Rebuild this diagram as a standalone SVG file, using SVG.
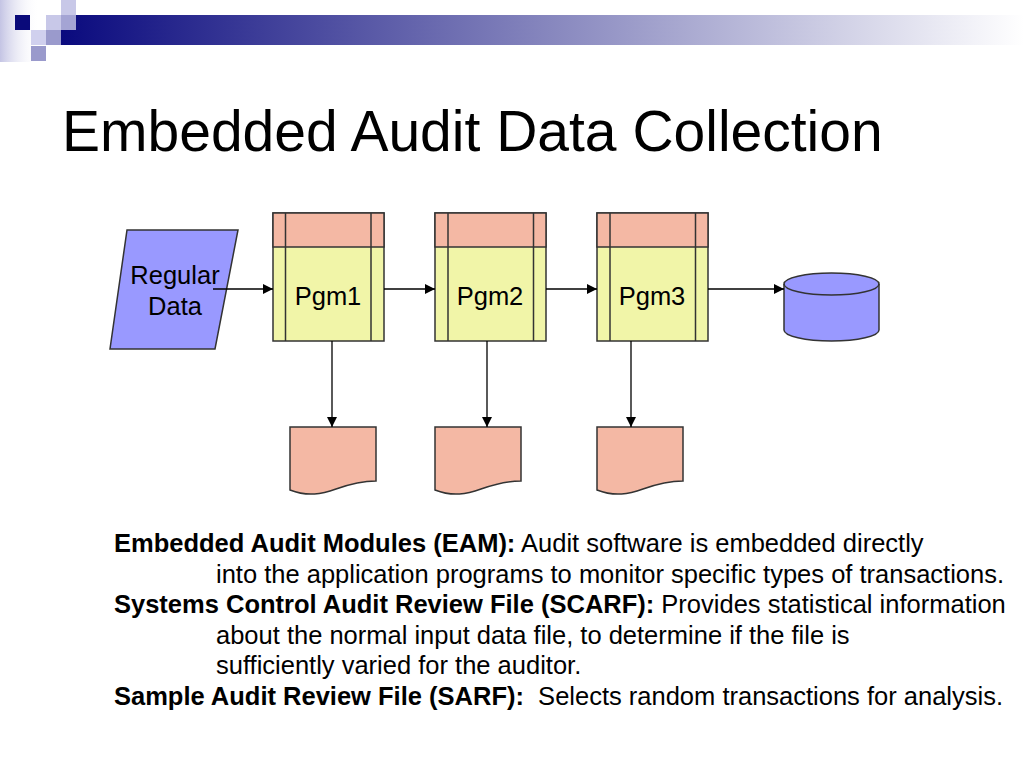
<svg xmlns="http://www.w3.org/2000/svg" width="1024" height="768" viewBox="0 0 1024 768">
<defs>
<linearGradient id="bar" x1="0" y1="0" x2="1" y2="0">
<stop offset="0" stop-color="#0a0a7e"/>
<stop offset="0.5" stop-color="#8585bd"/>
<stop offset="1" stop-color="#ffffff"/>
</linearGradient>
<linearGradient id="fade" x1="0" y1="0" x2="1" y2="0">
<stop offset="0" stop-color="#c4c4e4"/>
<stop offset="1" stop-color="#ffffff" stop-opacity="0"/>
</linearGradient>
<marker id="ah" viewBox="0 0 10 10" refX="10" refY="5" markerWidth="10" markerHeight="10" markerUnits="userSpaceOnUse" orient="auto">
<path d="M0,0 L10,5 L0,10 Z" fill="#000"/>
</marker>
<style>
.shape{stroke:#333;stroke-width:1.5}
.blue{fill:#9999ff}
.pink{fill:#f4b8a4}
.yel{fill:#f1f5a8}
.lbl{font-family:"Liberation Sans",Arial,sans-serif;font-size:25.5px;fill:#000;text-anchor:middle}
.body{font-family:"Liberation Sans",Arial,sans-serif;font-size:25.5px;fill:#000}
.b{font-weight:bold}
.conn{stroke:#000;stroke-width:1.3;fill:none;marker-end:url(#ah)}
</style>
</defs>
<rect width="1024" height="768" fill="#fff"/>
<g id="decoration">
<rect x="0" y="0" width="40" height="62" fill="url(#fade)"/>
<rect x="61" y="15" width="963" height="30" fill="url(#bar)"/>
<rect x="15" y="15" width="15" height="15" fill="#0a0a7a"/>
<rect x="46" y="15" width="15" height="15" fill="#c8c8e8"/>
<rect x="61" y="15" width="15" height="15" fill="#a4a4d4"/>
<rect x="61" y="0" width="15" height="15" fill="#c8c8e8"/>
<rect x="31" y="30" width="15" height="15" fill="#d0d0ee"/>
<rect x="46" y="30" width="15" height="15" fill="#9a9acc"/>
<rect x="31" y="46" width="15" height="15" fill="#9a9acc"/>
</g>
<text x="62" y="151" font-family="Liberation Sans,Arial,sans-serif" font-size="57" fill="#000">Embedded Audit Data Collection</text>
<g id="regular-data">
<polygon class="shape blue" points="127,230 238,230 215,349 110,349"/>
<text class="lbl" x="175" y="284">Regular</text>
<text class="lbl" x="175" y="315">Data</text>
</g>
<g id="pgm1">
<rect class="shape yel" x="273" y="213" width="111" height="128"/>
<rect class="shape pink" x="273" y="213" width="111" height="34"/>
<line class="shape" x1="285.5" y1="213" x2="285.5" y2="341"/>
<line class="shape" x1="371" y1="213" x2="371" y2="341"/>
<text class="lbl" x="328" y="305">Pgm1</text>
</g>
<g id="pgm2">
<rect class="shape yel" x="435" y="213" width="111" height="128"/>
<rect class="shape pink" x="435" y="213" width="111" height="34"/>
<line class="shape" x1="448" y1="213" x2="448" y2="341"/>
<line class="shape" x1="533.5" y1="213" x2="533.5" y2="341"/>
<text class="lbl" x="490" y="305">Pgm2</text>
</g>
<g id="pgm3">
<rect class="shape yel" x="597" y="213" width="111" height="128"/>
<rect class="shape pink" x="597" y="213" width="111" height="34"/>
<line class="shape" x1="610" y1="213" x2="610" y2="341"/>
<line class="shape" x1="695.5" y1="213" x2="695.5" y2="341"/>
<text class="lbl" x="652" y="305">Pgm3</text>
</g>
<g id="database">
<path class="shape blue" d="M784,284 A47.5,11 0 0 1 879,284 V330 A47.5,11 0 0 1 784,330 Z"/>
<path class="shape" fill="none" d="M784,284 A47.5,11 0 0 0 879,284"/>
</g>
<g id="doc1">
<path class="shape pink" d="M290,427 H376 V481 C361,481 350,484 336,489 C322,494 308,497 290,490 Z"/>
</g>
<g id="doc2">
<path class="shape pink" d="M435,427 H521 V481 C506,481 495,484 481,489 C467,494 453,497 435,490 Z"/>
</g>
<g id="doc3">
<path class="shape pink" d="M597,427 H683 V481 C668,481 657,484 643,489 C629,494 615,497 597,490 Z"/>
</g>
<g id="connectors">
<line class="conn" x1="213" y1="289" x2="273" y2="289"/>
<line class="conn" x1="384" y1="289" x2="435" y2="289"/>
<line class="conn" x1="546" y1="289" x2="597" y2="289"/>
<line class="conn" x1="708" y1="289" x2="784" y2="289"/>
<line class="conn" x1="332" y1="341" x2="332" y2="427"/>
<line class="conn" x1="487" y1="341" x2="487" y2="427"/>
<line class="conn" x1="631" y1="341" x2="631" y2="427"/>
</g>
<g id="description">
<text class="body" x="114" y="552"><tspan class="b">Embedded Audit Modules (EAM):</tspan> Audit software is embedded directly</text>
<text class="body" x="216" y="583">into the application programs to monitor specific types of transactions.</text>
<text class="body" x="114" y="613"><tspan class="b">Systems Control Audit Review File (SCARF):</tspan> Provides statistical information</text>
<text class="body" x="216" y="644">about the normal input data file, to determine if the file is</text>
<text class="body" x="216" y="674">sufficiently varied for the auditor.</text>
<text class="body" x="114" y="705" xml:space="preserve"><tspan class="b">Sample Audit Review File (SARF):</tspan>  Selects random transactions for analysis.</text>
</g>
</svg>
